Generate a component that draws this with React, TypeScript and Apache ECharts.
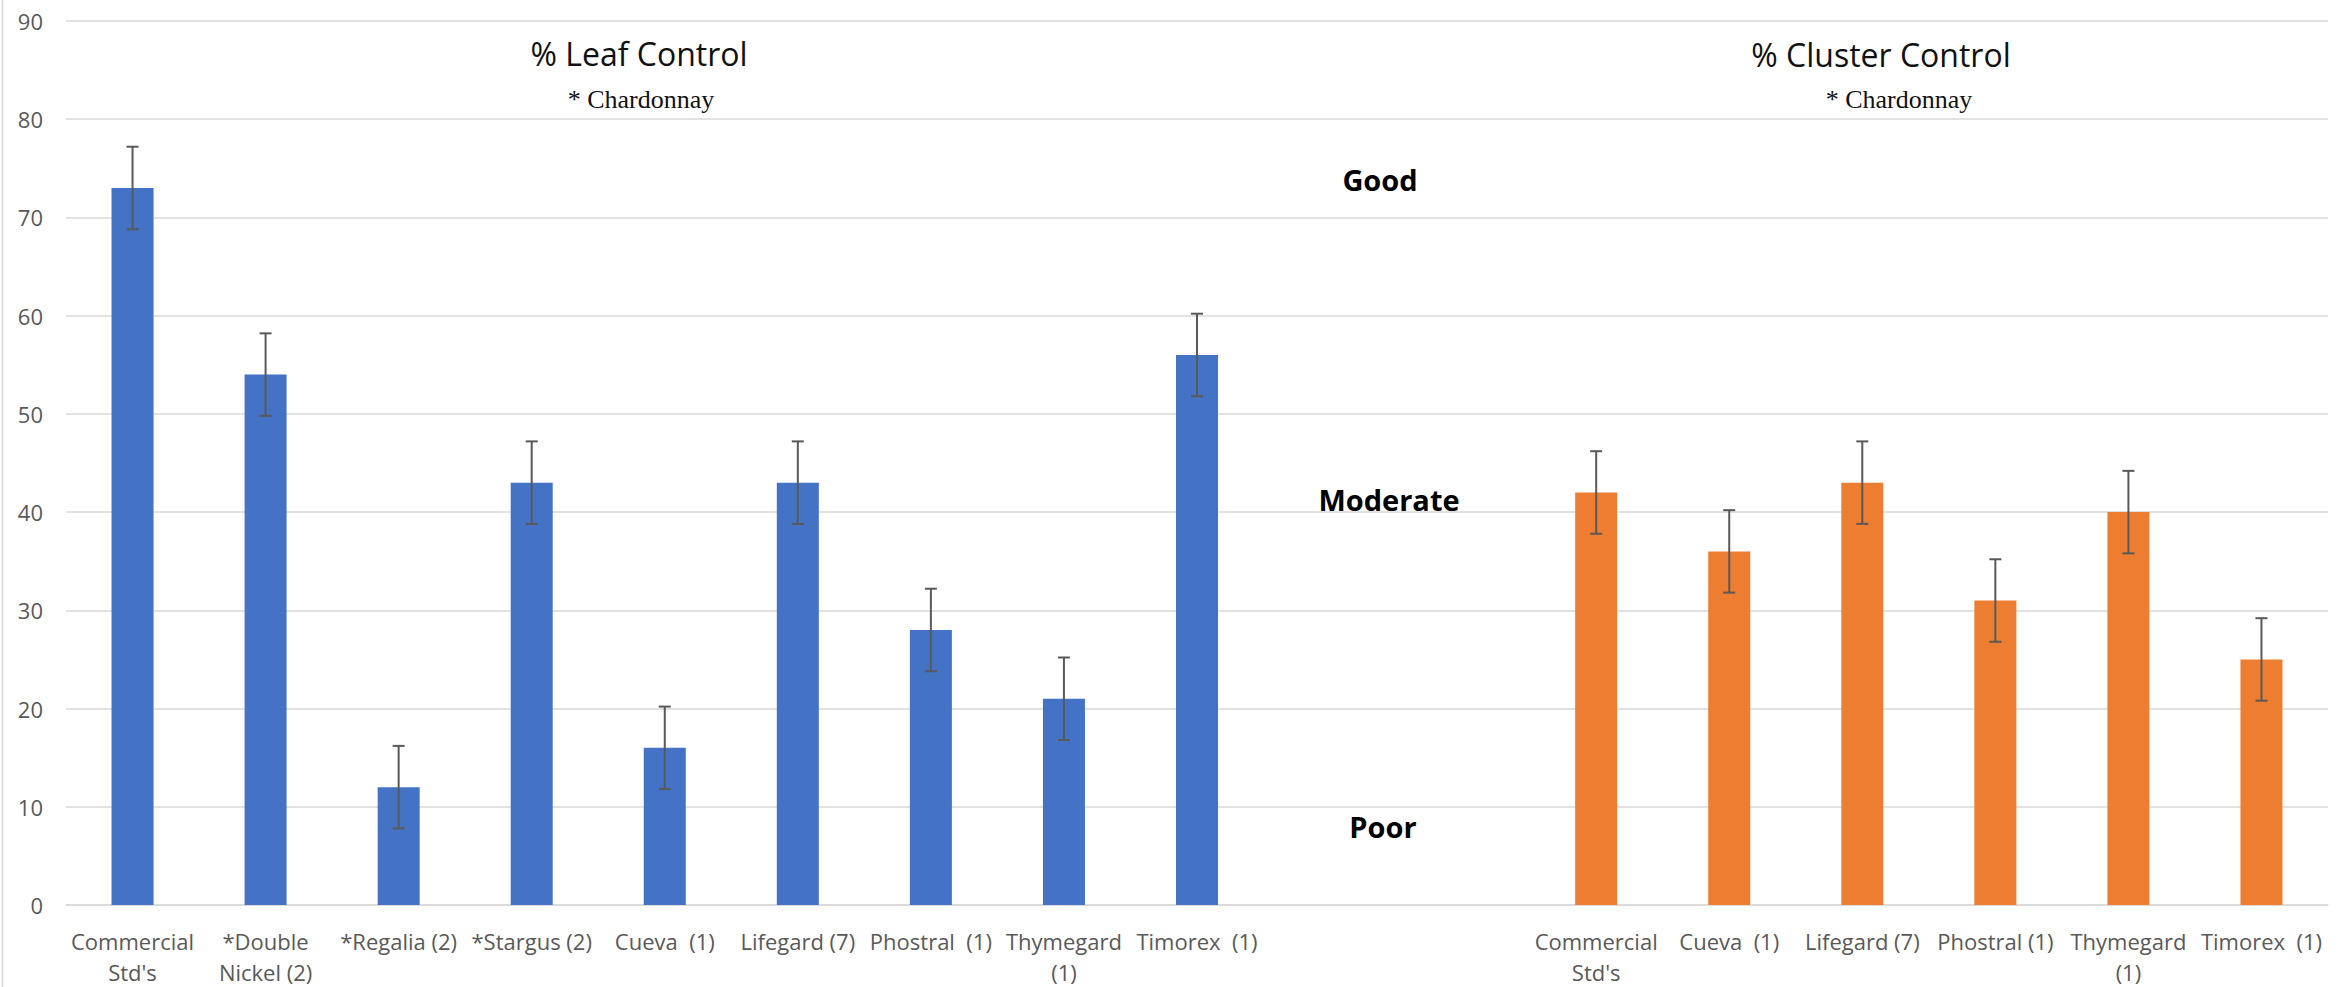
import React, { useEffect, useRef } from "react";
import * as echarts from "echarts";

const leafCategories = [
  "Commercial\nStd's",
  "*Double\nNickel (2)",
  "*Regalia (2)",
  "*Stargus (2)",
  "Cueva  (1)",
  "Lifegard (7)",
  "Phostral  (1)",
  "Thymegard\n(1)",
  "Timorex  (1)",
];
const gapCategories = ["", ""];
const clusterCategories = [
  "Commercial\nStd's",
  "Cueva  (1)",
  "Lifegard (7)",
  "Phostral (1)",
  "Thymegard\n(1)",
  "Timorex  (1)",
];

const leafValues = [73, 54, 12, 43, 16, 43, 28, 21, 56];
const leafErrors = [4.2, 4.2, 4.2, 4.2, 4.2, 4.2, 4.2, 4.2, 4.2];
const clusterValues = [42, 36, 43, 31, 40, 25];
const clusterErrors = [4.2, 4.2, 4.2, 4.2, 4.2, 4.2];

const yTicks = { min: 0, max: 90, interval: 10 };

const leafTitle = "% Leaf Control";
const clusterTitle = "% Cluster Control";
const subtitle = "* Chardonnay";
const ratingLabels = ["Good", "Moderate", "Poor"];

export default function App() {
  const ref = useRef<HTMLDivElement>(null);

  useEffect(() => {
    document.body.style.margin = "0";
    if (!ref.current) return;
    const chart = echarts.init(ref.current, null, { renderer: "svg" });

    const categories = [...leafCategories, ...gapCategories, ...clusterCategories];
    const n = categories.length;
    const clusterOffset = leafCategories.length + gapCategories.length;

    const leafData: (number | null)[] = new Array(n).fill(null);
    leafValues.forEach((v, i) => (leafData[i] = v));
    const clusterData: (number | null)[] = new Array(n).fill(null);
    clusterValues.forEach((v, i) => (clusterData[clusterOffset + i] = v));

    const errData: number[][] = [];
    leafValues.forEach((v, i) => errData.push([i, v - leafErrors[i], v + leafErrors[i]]));
    clusterValues.forEach((v, i) =>
      errData.push([clusterOffset + i, v - clusterErrors[i], v + clusterErrors[i]])
    );

    const sans = "'Open Sans', sans-serif";
    const serif = "'Liberation Serif', 'DejaVu Serif', serif";

    const option: any = {
      animation: false,
      backgroundColor: "#ffffff",
      grid: { left: 66, right: 23, top: 21, bottom: 81, containLabel: false },
      xAxis: {
        type: "category",
        data: categories,
        axisLine: { show: true, lineStyle: { color: "#d9d9d9", width: 1.5 } },
        axisTick: { show: false },
        axisLabel: {
          interval: 0,
          color: "#595959",
          fontSize: 22,
          fontFamily: sans,
          lineHeight: 31,
          margin: 20,
        },
        splitLine: { show: false },
      },
      yAxis: {
        type: "value",
        min: yTicks.min,
        max: yTicks.max,
        interval: yTicks.interval,
        axisLine: { show: false },
        axisTick: { show: false },
        axisLabel: { color: "#595959", fontSize: 22, fontFamily: sans, margin: 23 },
        splitLine: { lineStyle: { color: "#d9d9d9", width: 1.5 } },
      },
      series: [
        {
          type: "bar",
          name: "Leaf",
          data: leafData,
          barWidth: 42,
          barGap: "-100%",
          itemStyle: { color: "#4472C4" },
        },
        {
          type: "bar",
          name: "Cluster",
          data: clusterData,
          barWidth: 42,
          barGap: "-100%",
          itemStyle: { color: "#ED7D31" },
        },
        {
          type: "custom",
          name: "error",
          data: errData,
          encode: { x: 0, y: [1, 2] },
          z: 10,
          renderItem: (params: any, api: any) => {
            const x = api.value(0);
            const lo = api.coord([x, api.value(1)]);
            const hi = api.coord([x, api.value(2)]);
            const hw = 6;
            const style = { stroke: "#595959", lineWidth: 2 };
            return {
              type: "group",
              children: [
                { type: "line", shape: { x1: hi[0], y1: hi[1], x2: lo[0], y2: lo[1] }, style },
                { type: "line", shape: { x1: hi[0] - hw, y1: hi[1], x2: hi[0] + hw, y2: hi[1] }, style },
                { type: "line", shape: { x1: lo[0] - hw, y1: lo[1], x2: lo[0] + hw, y2: lo[1] }, style },
              ],
            };
          },
        },
      ],
      graphic: [
        {
          type: "line",
          shape: { x1: 2.5, y1: 0, x2: 2.5, y2: 987 },
          style: { stroke: "#d9d9d9", lineWidth: 1.5 },
        },
        {
          type: "text",
          x: 639,
          y: 53,
          style: { text: leafTitle, font: `32px ${sans}`, fill: "#111", textAlign: "center", textVerticalAlign: "middle" },
        },
        {
          type: "text",
          x: 641,
          y: 99,
          style: { text: subtitle, font: `26px ${serif}`, fill: "#111", textAlign: "center", textVerticalAlign: "middle" },
        },
        {
          type: "text",
          x: 1881,
          y: 54,
          style: { text: clusterTitle, font: `32px ${sans}`, fill: "#111", textAlign: "center", textVerticalAlign: "middle" },
        },
        {
          type: "text",
          x: 1899,
          y: 99,
          style: { text: subtitle, font: `26px ${serif}`, fill: "#111", textAlign: "center", textVerticalAlign: "middle" },
        },
        {
          type: "text",
          x: 1380,
          y: 179,
          style: { text: ratingLabels[0], font: `bold 29px ${sans}`, fill: "#000", textAlign: "center", textVerticalAlign: "middle" },
        },
        {
          type: "text",
          x: 1389,
          y: 499,
          style: { text: ratingLabels[1], font: `bold 29px ${sans}`, fill: "#000", textAlign: "center", textVerticalAlign: "middle" },
        },
        {
          type: "text",
          x: 1383,
          y: 826,
          style: { text: ratingLabels[2], font: `bold 29px ${sans}`, fill: "#000", textAlign: "center", textVerticalAlign: "middle" },
        },
      ],
    };

    chart.setOption(option);
    return () => chart.dispose();
  }, []);

  return <div ref={ref} style={{ width: 2351, height: 987 }} />;
}
